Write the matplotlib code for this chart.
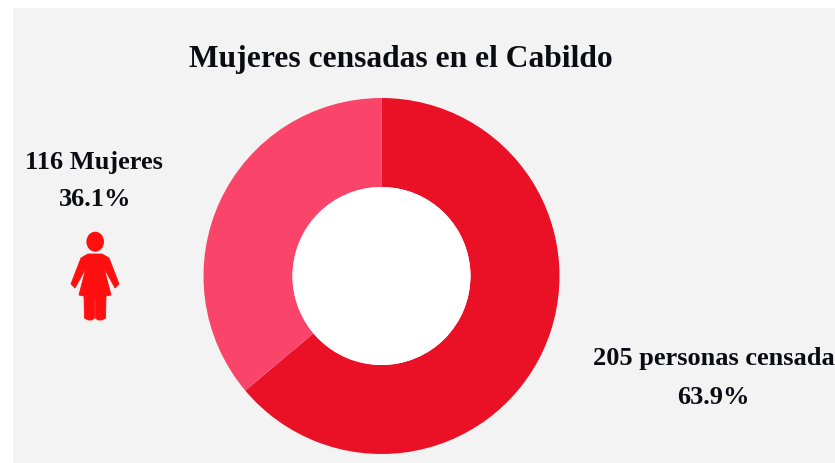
import matplotlib
matplotlib.use("Agg")
import matplotlib.pyplot as plt
from matplotlib.patches import Circle, Ellipse, Polygon, Rectangle

W, H = 835, 463
title = "Mujeres censadas en el Cabildo"
labels = ["205 personas censada", "116 Mujeres"]
counts = [205, 116]
percents = ["63.9%", "36.1%"]
colors = ["#EA1127", "#FB4469"]

plt.rcParams["font.family"] = ["Liberation Serif", "DejaVu Serif"]
fig = plt.figure(figsize=(W / 100, H / 100), dpi=100, facecolor="white")

# overlay in pixel coordinates
bg = fig.add_axes([0, 0, 1, 1])
bg.set_xlim(0, W)
bg.set_ylim(H, 0)
bg.axis("off")
bg.add_patch(Rectangle((13, 8), W - 13, H - 8, fc="#F3F3F3", ec="none"))

# donut
cx, cy, R = 381.5, 276, 178
ax = fig.add_axes([(cx - R) / W, 1 - (cy + R) / H, 2 * R / W, 2 * R / H])
ax.pie(counts, colors=colors, startangle=90, counterclock=False, radius=1,
       wedgeprops=dict(width=0.5, linewidth=0))
ax.add_patch(Circle((0, 0), 0.5, fc="white", ec="none", zorder=5))
ax.set_xlim(-1, 1)
ax.set_ylim(-1, 1)
ax.set_aspect("equal")
ax.axis("off")

# texts
top = fig.add_axes([0, 0, 1, 1])
top.set_xlim(0, W)
top.set_ylim(H, 0)
top.axis("off")
top.patch.set_alpha(0)
tk = dict(ha="center", va="center", fontweight="bold", color="#0b0b12")
top.text(400.5, 60, title, fontsize=22.7, **tk)
top.text(93.5, 162.5, labels[1], fontsize=19, **tk)
top.text(95, 200, percents[1], fontsize=19, **tk)
top.text(714, 359, labels[0], fontsize=19, **tk)
top.text(713, 397, percents[0], fontsize=19, **tk)

# woman icon
red = "#FF0F0F"
top.add_patch(Ellipse((95.2, 241.7), 17.6, 20, fc=red, ec="none"))
body = [(88, 254), (102, 254), (109, 258), (119, 284), (115, 288), (104, 268),
        (111, 295), (106, 296), (105.5, 318), (102, 320), (98, 320), (95.5, 318), (95.5, 300),
        (94.5, 300), (94.5, 318), (92, 320), (88, 320), (84.5, 318), (84, 296),
        (79, 295), (86, 268), (75, 288), (71, 284), (81, 258)]
top.add_patch(Polygon(body, closed=True, fc=red, ec=red, lw=0.6, joinstyle="round"))

fig.savefig("out.png", dpi=100, facecolor="white")
